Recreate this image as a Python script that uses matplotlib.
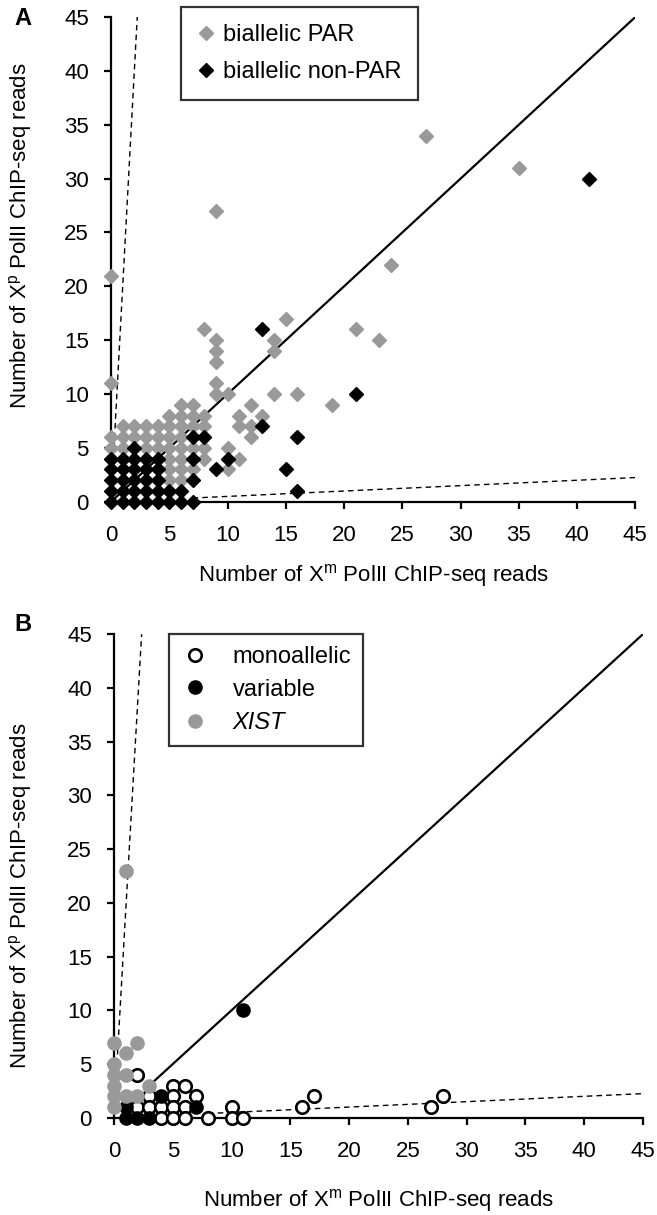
import matplotlib
matplotlib.use("Agg")
import matplotlib.pyplot as plt

plt.rcParams['font.family'] = ['Liberation Sans', 'DejaVu Sans']
plt.rcParams['mathtext.fontset'] = 'custom'
plt.rcParams['mathtext.rm'] = 'Liberation Sans'

# ---- panel A: biallelic genes (Xm reads, Xp reads)
par_x = [0, 0, 9, 27, 35, 24, 8, 9, 9, 9, 15, 14, 14, 21, 23, 9, 9, 10, 14, 16,
         19, 12, 11, 13, 11, 12, 12, 10, 11, 10,
         6, 7, 5, 6, 7, 8,
         1, 2, 3, 4, 5, 6, 7, 8,
         0, 1, 2, 3, 4, 5, 6, 7, 8,
         0, 1, 3, 4, 5, 6, 7, 8,
         0, 5, 6, 8, 5, 6, 7, 5, 6, 5]
par_y = [21, 11, 27, 34, 31, 22, 16, 15, 14, 13, 17, 15, 14, 16, 15, 11, 10, 10, 10, 10,
         9, 9, 8, 8, 7, 7, 6, 5, 4, 3,
         9, 9, 8, 8, 8, 8,
         7, 7, 7, 7, 7, 7, 7, 7,
         6, 6, 6, 6, 6, 6, 6, 6, 6,
         5, 5, 5, 5, 5, 5, 5, 5,
         4, 4, 4, 4, 3, 3, 3, 2, 2, 1]

nonpar_x = [0, 1, 2, 3, 4, 5, 6, 7,
            0, 1, 2, 3, 4, 5, 6,
            0, 1, 2, 3, 4, 7,
            0, 1, 2, 3, 4,
            0, 1, 2, 3, 4, 7, 10,
            2, 7, 8, 16,
            9, 15, 13, 16, 13, 21, 41]
nonpar_y = [0, 0, 0, 0, 0, 0, 0, 0,
            1, 1, 1, 1, 1, 1, 1,
            2, 2, 2, 2, 2, 2,
            3, 3, 3, 3, 3,
            4, 4, 4, 4, 4, 4, 4,
            5, 6, 6, 6,
            3, 3, 7, 1, 16, 10, 30]

# ---- panel B: monoallelic / variable / XIST
mono_x = [2, 5, 6, 3, 5, 7, 2, 3, 4, 5, 6, 10, 4, 5, 6, 8, 10, 11, 16, 17, 27, 28]
mono_y = [4, 3, 3, 2, 2, 2, 1, 1, 1, 1, 1, 1, 0, 0, 0, 0, 0, 0, 1, 2, 1, 2]

var_x = [1, 2, 3, 1, 4, 7, 11]
var_y = [0, 0, 0, 1, 2, 1, 10]

xist_x = [1, 0, 2, 1, 0, 0, 1, 0, 3, 0, 1, 2, 0]
xist_y = [23, 7, 7, 6, 5, 4, 4, 3, 3, 2, 2, 2, 1]

ticks = list(range(0, 50, 5))
gray = '#999999'
xlab = 'Number of X$^\\mathregular{m}$ PolII ChIP-seq reads'
ylab = 'Number of X$^\\mathregular{p}$ PolII ChIP-seq reads'

fig = plt.figure(figsize=(6.57, 12.15), dpi=100)
axA = fig.add_axes([0.169, 0.587, 0.798, 0.399])
axB = fig.add_axes([0.1735, 0.080, 0.805, 0.398])


def style_axes(ax):
    ax.set_xlim(0, 45)
    ax.set_ylim(0, 45)
    ax.set_xticks(ticks)
    ax.set_yticks(ticks)
    for s in ['top', 'right']:
        ax.spines[s].set_visible(False)
    for s in ['left', 'bottom']:
        ax.spines[s].set_linewidth(1.6)
    ax.tick_params(direction='out', length=5, width=1.6, labelsize=16)
    ax.tick_params(axis='x', pad=12)
    ax.tick_params(axis='y', pad=11)
    ax.set_xlabel(xlab, fontsize=16, labelpad=11)
    ax.set_ylabel(ylab, fontsize=16)


# panel A
axA.plot([0, 45], [0, 45], color='black', lw=1.6, zorder=1)
axA.plot([0.25, 2.25], [5, 45], color='black', lw=1, ls=(0, (4, 3)), zorder=1)
axA.plot([7, 45], [0.35, 2.25], color='black', lw=1, ls=(0, (4, 3)), zorder=1)
axA.plot(par_x, par_y, ls='none', marker='D', ms=7, color=gray, mec=gray,
         clip_on=False, zorder=3, label='biallelic PAR')
axA.plot(nonpar_x, nonpar_y, ls='none', marker='D', ms=7, color='black',
         clip_on=False, zorder=4, label='biallelic non-PAR')
style_axes(axA)
axA.yaxis.set_label_coords(-0.147, 0.55)
legA = axA.legend(loc='upper left', bbox_to_anchor=(0.134, 1.02), fontsize=17,
                  frameon=True, fancybox=False, edgecolor='black',
                  handlelength=0.7, handletextpad=0.35, borderpad=0.7,
                  labelspacing=0.65, borderaxespad=0)
legA.get_frame().set_linewidth(1.6)

# panel B
axB.plot([3, 45], [3, 45], color='black', lw=1.6, zorder=1)
axB.plot([0.25, 2.35], [5, 45], color='black', lw=1, ls=(0, (4, 3)), zorder=1)
axB.plot([8, 45], [0.4, 2.25], color='black', lw=1, ls=(0, (4, 3)), zorder=1)
axB.plot(mono_x, mono_y, ls='none', marker='o', ms=9, mfc='white', mec='black',
         mew=1.9, clip_on=False, zorder=3, label='monoallelic')
axB.plot(var_x, var_y, ls='none', marker='o', ms=9.5, color='black',
         clip_on=False, zorder=4, label='variable')
axB.plot(xist_x, xist_y, ls='none', marker='o', ms=9.5, color=gray,
         clip_on=False, zorder=5, label='XIST')
style_axes(axB)
axB.yaxis.set_label_coords(-0.151, 0.46)
axB.xaxis.labelpad = 18
legB = axB.legend(loc='upper left', bbox_to_anchor=(0.104, 1.0), fontsize=17,
                  frameon=True, fancybox=False, edgecolor='black',
                  handlelength=1.2, handletextpad=1.0, borderpad=0.5,
                  labelspacing=0.45, borderaxespad=0)
legB.get_frame().set_linewidth(1.6)
legB.get_texts()[2].set_fontstyle('italic')

fig.text(0.022, 0.985, 'A', fontsize=17, fontweight='bold', va='center')
fig.text(0.022, 0.486, 'B', fontsize=17, fontweight='bold', va='center')

fig.savefig('out.png', dpi=100)
